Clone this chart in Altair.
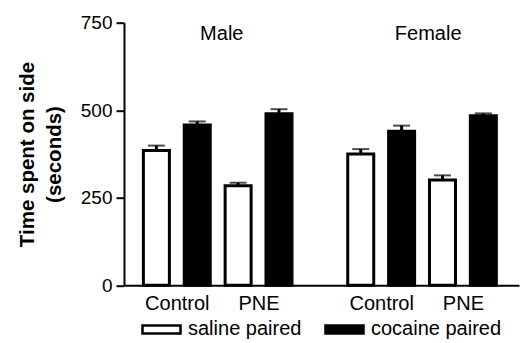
import altair as alt
import pandas as pd

# ---- data ----
sexes = ["Male", "Male", "Male", "Male", "Female", "Female", "Female", "Female"]
groups = ["Control", "Control", "PNE", "PNE", "Control", "Control", "PNE", "PNE"]
pairing = ["saline paired", "cocaine paired"] * 4
slots = [0, 1, 2, 3, 5, 6, 7, 8]
means = [385, 458, 284, 490, 375, 440, 301, 484]
uppers = [399, 468, 293, 503, 389, 456, 314, 491]

group_label_slots = [0.5, 2.5, 5.5, 7.5]
group_label_text = ["Control", "PNE", "Control", "PNE"]

header_text = ["Male", "Female"]
header_slot = [1.6, 6.65]
header_y = [718, 718]

y_ticks = [0, 250, 500, 750]
pair_order = ["saline paired", "cocaine paired"]
pair_colors = ["white", "black"]

FONT = "Liberation Sans"

df = pd.DataFrame({
    "sex": sexes, "group": groups, "pairing": pairing,
    "slot": slots, "mean": means, "upper": uppers,
})
hdr = pd.DataFrame({"text": header_text, "slot": header_slot, "y": header_y})

label_expr = " : ".join(
    f"datum.value == {v} ? '{t}'" for v, t in zip(group_label_slots, group_label_text)
) + " : ''"

xscale = alt.Scale(domain=[-0.67, 8.75], nice=False, zero=False)
yscale = alt.Scale(domain=[0, 750], nice=False)

x_axis = alt.Axis(
    values=group_label_slots, labelExpr=label_expr, ticks=False, grid=False,
    title=None, domainColor="black", domainWidth=2, labelFontSize=20,
    labelFont=FONT, labelColor="black", labelPadding=8, labelFlush=False,
)
y_axis = alt.Axis(
    values=y_ticks, grid=False, title=["Time spent on side", "(seconds)"],
    domainColor="black", domainWidth=2, tickColor="black", tickWidth=2,
    tickSize=8, labelFontSize=19, labelFont=FONT, labelColor="black",
    labelPadding=4, titleFont=FONT, titleFontSize=20.5, titleFontWeight="bold",
    titleColor="black", titlePadding=16, titleLineHeight=27,
)

base = alt.Chart(df)

bars = base.mark_bar(size=26, stroke="black", strokeWidth=3).encode(
    x=alt.X("slot:Q", scale=xscale, axis=x_axis),
    y=alt.Y("mean:Q", scale=yscale, axis=y_axis),
    fill=alt.Fill(
        "pairing:N",
        scale=alt.Scale(domain=pair_order, range=pair_colors),
        legend=alt.Legend(
            title=None, orient="none", legendX=17, legendY=286,
            direction="horizontal", labelFontSize=20, labelFont=FONT,
            labelColor="black", symbolType="M-1,-0.21H1V0.21H-1Z",
            symbolSize=1444, symbolStrokeColor="black", symbolStrokeWidth=2.5,
            labelOffset=6, columnPadding=18,
        ),
    ),
)

stems = base.mark_rule(color="black", strokeWidth=3).encode(
    x="slot:Q", y="mean:Q", y2="upper:Q"
)
caps = base.mark_tick(orient="horizontal", size=17, thickness=2, color="black").encode(
    x="slot:Q", y="upper:Q"
)

headers = alt.Chart(hdr).mark_text(
    fontSize=20, font=FONT, color="black", baseline="middle", align="center"
).encode(x="slot:Q", y="y:Q", text="text:N")

chart = alt.layer(bars, stems, caps, headers).properties(
    width=395, height=262.6,
    autosize=alt.AutoSizeParams(type="none"),
    padding={"left": 124, "top": 22.7, "right": 1, "bottom": 57.7},
).configure_view(stroke=None)

chart.save("out.html", embed_options={"renderer": "svg", "actions": False})
